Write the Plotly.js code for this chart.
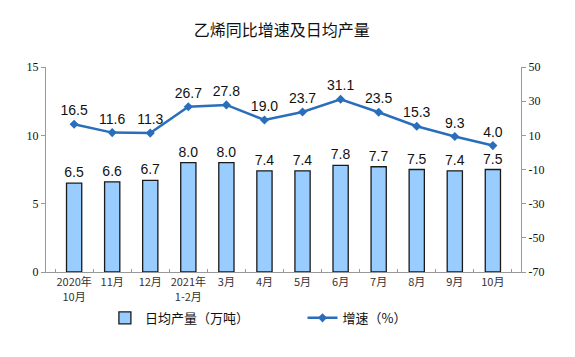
<!DOCTYPE html>
<html><head><meta charset="utf-8">
<script src="https://cdn.plot.ly/plotly-3.0.1.min.js"></script>
<style>html,body{margin:0;padding:0;background:#fff}#chart{width:575px;height:357px}</style>
</head><body><div id="chart"></div>
<script>
const categories = ["2020年<br>10月","11月","12月","2021年<br>1-2月","3月","4月","5月","6月","7月","8月","9月","10月"];
const dailyOutput = [6.5,6.6,6.7,8.0,8.0,7.4,7.4,7.8,7.7,7.5,7.4,7.5];
const growth = [16.5,11.6,11.3,26.7,27.8,19.0,23.7,31.1,23.5,15.3,9.3,4.0];
const leftTicks = [0,5,10,15];
const rightTicks = [-70,-50,-30,-10,10,30,50];
const rightTickText = ["-70","-50","-30","-10","10","30","50"];

const cjk = '"Noto Sans CJK SC", sans-serif';
const serif = '"Liberation Serif", "Times New Roman", serif';
const sans = '"Liberation Sans", Arial, sans-serif';

const traces = [
  {type:'bar', x:categories, y:dailyOutput, name:'日均产量（万吨）', legend:'legend',
   marker:{color:'#99ccff', line:{color:'#1a1a1a', width:1.3}}, width:0.4,
   text:dailyOutput.map(v=>v.toFixed(1)), textposition:'outside', cliponaxis:false, constraintext:'none',
   textfont:{family:sans, size:14, color:'#111'}},
  {type:'scatter', mode:'lines+markers+text', x:categories, y:growth, yaxis:'y2', name:'增速（%）', legend:'legend2',
   line:{color:'#2a6ebb', width:2.5}, marker:{symbol:'diamond', size:7, color:'#2a6ebb'},
   text:growth.map(v=>v.toFixed(1)), textposition:'top center', cliponaxis:false,
   textfont:{family:sans, size:14, color:'#111'}}
];

const layout = {
  width:575, height:357, margin:{l:46, r:54, t:67, b:85},
  paper_bgcolor:'#fff', plot_bgcolor:'#fff', showlegend:true,
  title:{text:'乙烯同比增速及日均产量', x:0.49, xanchor:'center', y:0.915, yanchor:'middle',
    font:{family:cjk, size:16, color:'#111'}},
  xaxis:{type:'category', showline:true, linecolor:'#999', linewidth:1, ticks:'inside', tickson:'boundaries',
    ticklen:3, tickcolor:'#999', showgrid:false, automargin:false, tickangle:0,
    tickfont:{family:cjk, size:11, color:'#333'}},
  yaxis:{range:[0,15], tickvals:leftTicks, showline:true, linecolor:'#999', ticks:'outside', ticklen:4, tickcolor:'#999',
    showgrid:false, zeroline:false, automargin:false, tickfont:{family:serif, size:12, color:'#111'}},
  yaxis2:{range:[-70,50], tickvals:rightTicks, ticktext:rightTickText, overlaying:'y', side:'right', showline:true, linecolor:'#999',
    ticks:'outside', ticklen:4, tickcolor:'#999', showgrid:false, zeroline:false, automargin:false,
    tickfont:{family:serif, size:12, color:'#111'}},
  legend:{orientation:'h', x:0.124, xanchor:'left', y:-0.224, yanchor:'middle', bgcolor:'rgba(0,0,0,0)',
    font:{family:cjk, size:13, color:'#111'}},
  legend2:{orientation:'h', x:0.54, xanchor:'left', y:-0.224, yanchor:'middle', bgcolor:'rgba(0,0,0,0)',
    font:{family:cjk, size:13, color:'#111'}}
};
Plotly.newPlot('chart', traces, layout, {displayModeBar:false, staticPlot:true});
</script></body></html>
